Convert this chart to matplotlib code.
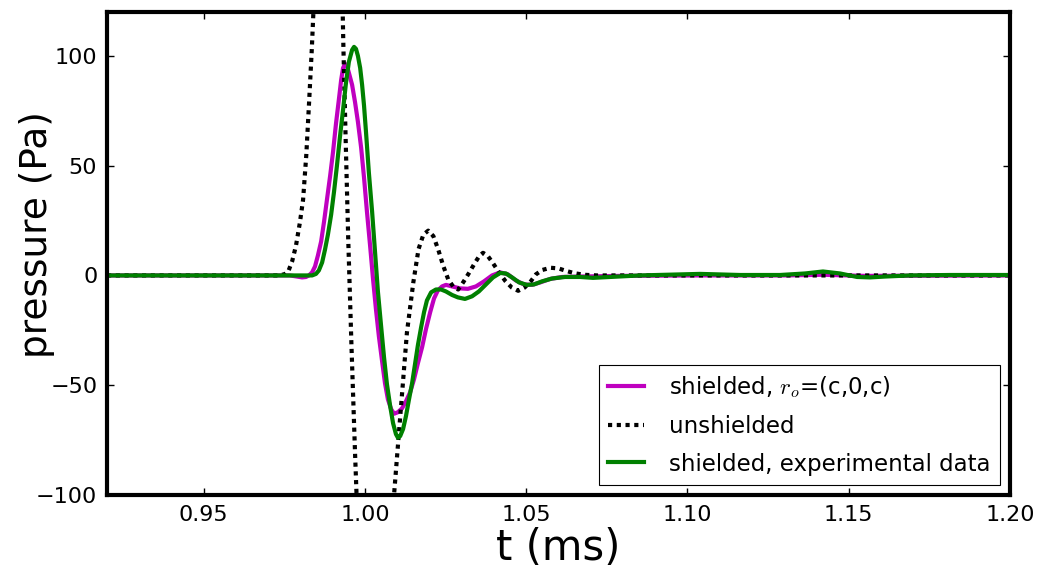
import matplotlib
matplotlib.use("Agg")
import matplotlib.pyplot as plt

plt.rcParams["font.family"] = ["DejaVu Sans"]
plt.rcParams["mathtext.fontset"] = "cm"

# shielded, simulated with r_o=(c,0,c)
T_SIM = [0.9200, 0.9767, 0.9789, 0.9805, 0.9817, 0.9826, 0.9836, 0.9845, 0.9854,
         0.9864, 0.9873, 0.9882, 0.9892, 0.9901, 0.9910, 0.9920, 0.9926, 0.9932,
         0.9938, 0.9944, 0.9950, 0.9960, 0.9969, 0.9978, 0.9988, 0.9997, 1.0006,
         1.0016, 1.0025, 1.0034, 1.0043, 1.0053, 1.0062, 1.0071, 1.0081, 1.0090,
         1.0102, 1.0115, 1.0127, 1.0140, 1.0152, 1.0164, 1.0177, 1.0189, 1.0202,
         1.0214, 1.0226, 1.0239, 1.0251, 1.0270, 1.0295, 1.0319, 1.0344, 1.0369,
         1.0394, 1.0419, 1.0443, 1.0468, 1.0493, 1.0518, 1.0543, 1.0574, 1.0611,
         1.0667, 1.0791, 1.1039, 1.1300, 1.1420, 1.1550, 1.2000]
P_SIM = [0.0, 0.0, -0.5, -0.9, -0.7, 0.0, 1.4, 4.1, 9.1,
         15.5, 24.5, 34.5, 45.5, 56.4, 69.1, 81.4, 89.0, 94.5,
         96.4, 95.5, 92.3, 86.8, 79.0, 70.0, 58.2, 44.5, 29.1,
         13.2, -1.8, -15.5, -27.7, -39.1, -49.1, -56.4, -60.9, -63.0,
         -62.3, -60.5, -57.3, -53.2, -47.3, -40.0, -32.7, -24.5, -16.8,
         -10.5, -6.8, -5.0, -4.3, -5.0, -5.9, -6.1, -5.0, -2.7,
         0.0, 1.4, 0.5, -2.3, -4.1, -4.3, -3.2, -1.6, -0.7,
         -0.5, -0.2, 0.0, 0.0, 0.3, -0.2, 0.0]

# unshielded
T_UNS = [0.9200, 0.9730, 0.9750, 0.9762, 0.9774, 0.9786, 0.9798, 0.9808, 0.9818,
         0.9827, 0.9835, 0.9840, 0.9850, 0.9862, 0.9875, 0.9888, 0.9900, 0.9912,
         0.9922, 0.9928, 0.9933, 0.9940, 0.9948, 0.9958, 0.9969, 0.9980, 0.9995,
         1.0012, 1.0030, 1.0048, 1.0065, 1.0080, 1.0090, 1.0105, 1.0117, 1.0130,
         1.0150, 1.0166, 1.0181, 1.0196, 1.0212, 1.0227, 1.0243, 1.0258, 1.0274,
         1.0289, 1.0305, 1.0322, 1.0340, 1.0355, 1.0366, 1.0380, 1.0395, 1.0415,
         1.0435, 1.0455, 1.0475, 1.0495, 1.0515, 1.0530, 1.0550, 1.0575, 1.0600,
         1.0625, 1.0650, 1.0680, 1.0720, 1.2000]
P_UNS = [0.0, 0.0, 0.5, 1.8, 6.4, 13.6, 24.0, 34.5, 55.0,
         80.0, 103.0, 120.0, 150.0, 190.0, 225.0, 245.0, 240.0, 215.0,
         170.0, 140.0, 104.0, 62.0, 16.4, -32.0, -80.5, -125.0, -190.0,
         -240.0, -250.0, -230.0, -185.0, -135.0, -100.0, -72.0, -50.0, -26.0,
         -3.0, 12.0, 18.6, 20.4, 17.9, 11.8, 4.2, -1.8, -5.2,
         -6.4, -3.0, 1.0, 5.5, 9.0, 10.3, 9.0, 6.0, 1.5,
         -2.5, -5.5, -7.0, -5.5, -2.5, 0.5, 2.5, 3.5, 3.2,
         2.0, 1.0, 0.3, 0.0, 0.0]

# shielded, measured
T_EXP = [0.9200, 0.9798, 0.9836, 0.9848, 0.9857, 0.9867, 0.9876, 0.9885, 0.9895,
         0.9904, 0.9913, 0.9922, 0.9932, 0.9941, 0.9950, 0.9960, 0.9966, 0.9972,
         0.9978, 0.9985, 0.9991, 0.9997, 1.0003, 1.0012, 1.0022, 1.0031, 1.0040,
         1.0050, 1.0059, 1.0068, 1.0078, 1.0087, 1.0096, 1.0102, 1.0109, 1.0118,
         1.0127, 1.0136, 1.0146, 1.0155, 1.0164, 1.0174, 1.0183, 1.0192, 1.0205,
         1.0220, 1.0236, 1.0251, 1.0270, 1.0288, 1.0310, 1.0332, 1.0353, 1.0375,
         1.0397, 1.0419, 1.0437, 1.0456, 1.0478, 1.0502, 1.0524, 1.0549, 1.0580,
         1.0620, 1.0667, 1.0707, 1.0760, 1.0853, 1.1039, 1.1163, 1.1287, 1.1365,
         1.1420, 1.1473, 1.1526, 1.1566, 1.1613, 1.1690, 1.1814, 1.2000]
P_EXP = [0.0, 0.0, 0.0, 0.7, 2.3, 5.9, 11.8, 18.6, 27.7,
         38.2, 50.0, 62.7, 75.5, 87.7, 97.3, 102.7, 104.1, 103.2,
         100.0, 94.5, 86.8, 77.3, 65.5, 46.8, 29.1, 10.9, -7.3,
         -23.2, -37.3, -49.5, -59.5, -67.3, -72.3, -73.9, -73.2, -70.0,
         -64.1, -56.8, -49.1, -40.5, -31.8, -23.6, -16.8, -11.4, -7.7,
         -6.4, -6.4, -7.3, -8.9, -10.0, -10.7, -9.5, -7.3, -4.1,
         -0.9, 1.1, 0.9, -0.9, -3.2, -4.3, -4.1, -2.7, -1.4,
         -0.7, -0.7, -1.1, -0.7, 0.0, 0.7, 0.2, 0.2, 0.9,
         1.8, 0.9, -0.7, -0.9, -0.5, 0.0, 0.2, 0.2]

X_TICKS = [0.95, 1.00, 1.05, 1.10, 1.15, 1.20]
Y_TICKS = [-100, -50, 0, 50, 100]


def main():
    fig = plt.figure(figsize=(10.38, 5.70), dpi=100)
    ax = fig.add_axes([0.1031, 0.1316, 0.8699, 0.8474])

    ax.plot(T_SIM, P_SIM, color="#bf00bf", lw=3, label=r"shielded, $r_o$=(c,0,c)")
    ax.plot(T_UNS, P_UNS, color="black", lw=3, dashes=(1.0, 1.1),
            label="unshielded")
    ax.plot(T_EXP, P_EXP, color="#008000", lw=3,
            label="shielded, experimental data")

    ax.set_xlim(0.92, 1.20)
    ax.set_ylim(-100, 120)
    ax.set_xticks(X_TICKS)
    ax.set_xticklabels(["%.2f" % t for t in X_TICKS])
    ax.set_yticks(Y_TICKS)
    ax.tick_params(direction="in", top=True, right=True, length=5, width=1,
                   labelsize=16, pad=7)

    for s in ax.spines.values():
        s.set_linewidth(3)

    ax.set_xlabel("t (ms)", fontsize=30, labelpad=2)
    ax.set_ylabel("pressure (Pa)", fontsize=27)
    ax.yaxis.set_label_coords(-0.058, 0.54)

    leg = ax.legend(loc="lower right", fontsize=16.5, handlelength=1.57,
                    handletextpad=1.1, labelspacing=0.65, borderpad=0.4,
                    borderaxespad=0.45, fancybox=False, framealpha=1)
    leg.get_frame().set_edgecolor("black")
    leg.get_frame().set_linewidth(0.8)

    fig.savefig("out.png", dpi=100)


if __name__ == "__main__":
    main()
